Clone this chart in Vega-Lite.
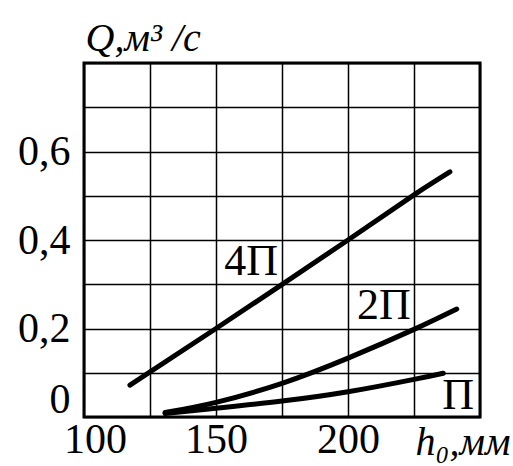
{
  "$schema": "https://vega.github.io/schema/vega-lite/v6.json",
  "width": 396,
  "height": 354,
  "autosize": {"type": "none"},
  "padding": {"left": 84, "top": 63, "right": 33, "bottom": 49},
  "background": "white",
  "config": {
    "view": {"stroke": "black", "strokeWidth": 3},
    "font": "Liberation Serif"
  },
  "datasets": {
    "curves": [
      {"h": 117.4, "q": 0.072, "s": "4П"},
      {"h": 150, "q": 0.2, "s": "4П"},
      {"h": 200, "q": 0.4, "s": "4П"},
      {"h": 225, "q": 0.502, "s": "4П"},
      {"h": 238.6, "q": 0.554, "s": "4П"},
      {"h": 130.7, "q": 0.01, "s": "2П"},
      {"h": 150, "q": 0.033, "s": "2П"},
      {"h": 175, "q": 0.076, "s": "2П"},
      {"h": 200, "q": 0.133, "s": "2П"},
      {"h": 225, "q": 0.198, "s": "2П"},
      {"h": 241.2, "q": 0.244, "s": "2П"},
      {"h": 130.7, "q": 0.008, "s": "П"},
      {"h": 150, "q": 0.02, "s": "П"},
      {"h": 175, "q": 0.036, "s": "П"},
      {"h": 200, "q": 0.057, "s": "П"},
      {"h": 225, "q": 0.085, "s": "П"},
      {"h": 236.1, "q": 0.099, "s": "П"}
    ],
    "labels": [
      {"h": 163.3, "q": 0.35, "t": "4П"},
      {"h": 213.6, "q": 0.251, "t": "2П"},
      {"h": 241.7, "q": 0.047, "t": "П"}
    ]
  },
  "layer": [
    {
      "data": {"name": "curves"},
      "mark": {"type": "line", "color": "black", "strokeWidth": 5, "strokeCap": "round", "interpolate": "natural", "clip": true},
      "encoding": {
        "x": {
          "field": "h", "type": "quantitative",
          "scale": {"domain": [100, 250], "nice": false, "zero": false},
          "axis": {
            "values": [100, 125, 150, 175, 200, 225, 250],
            "labelExpr": "indexof([100,150,200], datum.value) >= 0 ? datum.label : ''",
            "labelOffset": {"condition": {"test": "datum.value == 100", "value": 11}, "value": 0},
            "grid": true, "gridColor": "black", "gridWidth": 1.5, "gridOpacity": 1,
            "domain": false, "ticks": false,
            "labelFont": "Liberation Serif", "labelFontSize": 42, "labelColor": "black",
            "labelPadding": 2, "labelOverlap": false, "labelBound": false, "labelFlush": false,
            "title": "h₀,мм", "titleFont": "Liberation Serif", "titleFontSize": 40,
            "titleFontStyle": "italic", "titleFontWeight": "normal", "titleColor": "black",
            "titleAnchor": "end", "titleAlign": "right", "titleBaseline": "alphabetic",
            "titleX": 426, "titleY": 37
          }
        },
        "y": {
          "field": "q", "type": "quantitative",
          "scale": {"domain": [0, 0.8], "nice": false},
          "axis": {
            "values": [0, 0.1, 0.2, 0.3, 0.4, 0.5, 0.6, 0.7, 0.8],
            "labelExpr": "datum.value == 0 ? '0' : (indexof([0.2,0.4,0.6], datum.value) >= 0 ? replace(format(datum.value, '.1f'), '.', ',') : '')",
            "labelBaseline": {"condition": {"test": "datum.value == 0", "value": "alphabetic"}, "value": "middle"},
            "labelOffset": {"condition": {"test": "datum.value == 0", "value": -5}, "value": 0},
            "grid": true, "gridColor": "black", "gridWidth": 1.5, "gridOpacity": 1,
            "domain": false, "ticks": false,
            "labelFont": "Liberation Serif", "labelFontSize": 42, "labelColor": "black",
            "labelPadding": 14, "labelOverlap": false, "labelBound": false, "labelFlush": false,
            "title": "Q,м³ /с", "titleFont": "Liberation Serif", "titleFontSize": 40,
            "titleFontStyle": "italic", "titleFontWeight": "normal", "titleColor": "black",
            "titleAngle": 0, "titleAlign": "left", "titleBaseline": "alphabetic",
            "titleX": 1, "titleY": -13
          }
        },
        "detail": {"field": "s", "type": "nominal"}
      }
    },
    {
      "data": {"name": "labels"},
      "mark": {"type": "text", "font": "Liberation Serif", "fontSize": 44, "color": "black", "align": "center", "baseline": "middle"},
      "encoding": {
        "x": {"field": "h", "type": "quantitative"},
        "y": {"field": "q", "type": "quantitative"},
        "text": {"field": "t", "type": "nominal"}
      }
    }
  ]
}
